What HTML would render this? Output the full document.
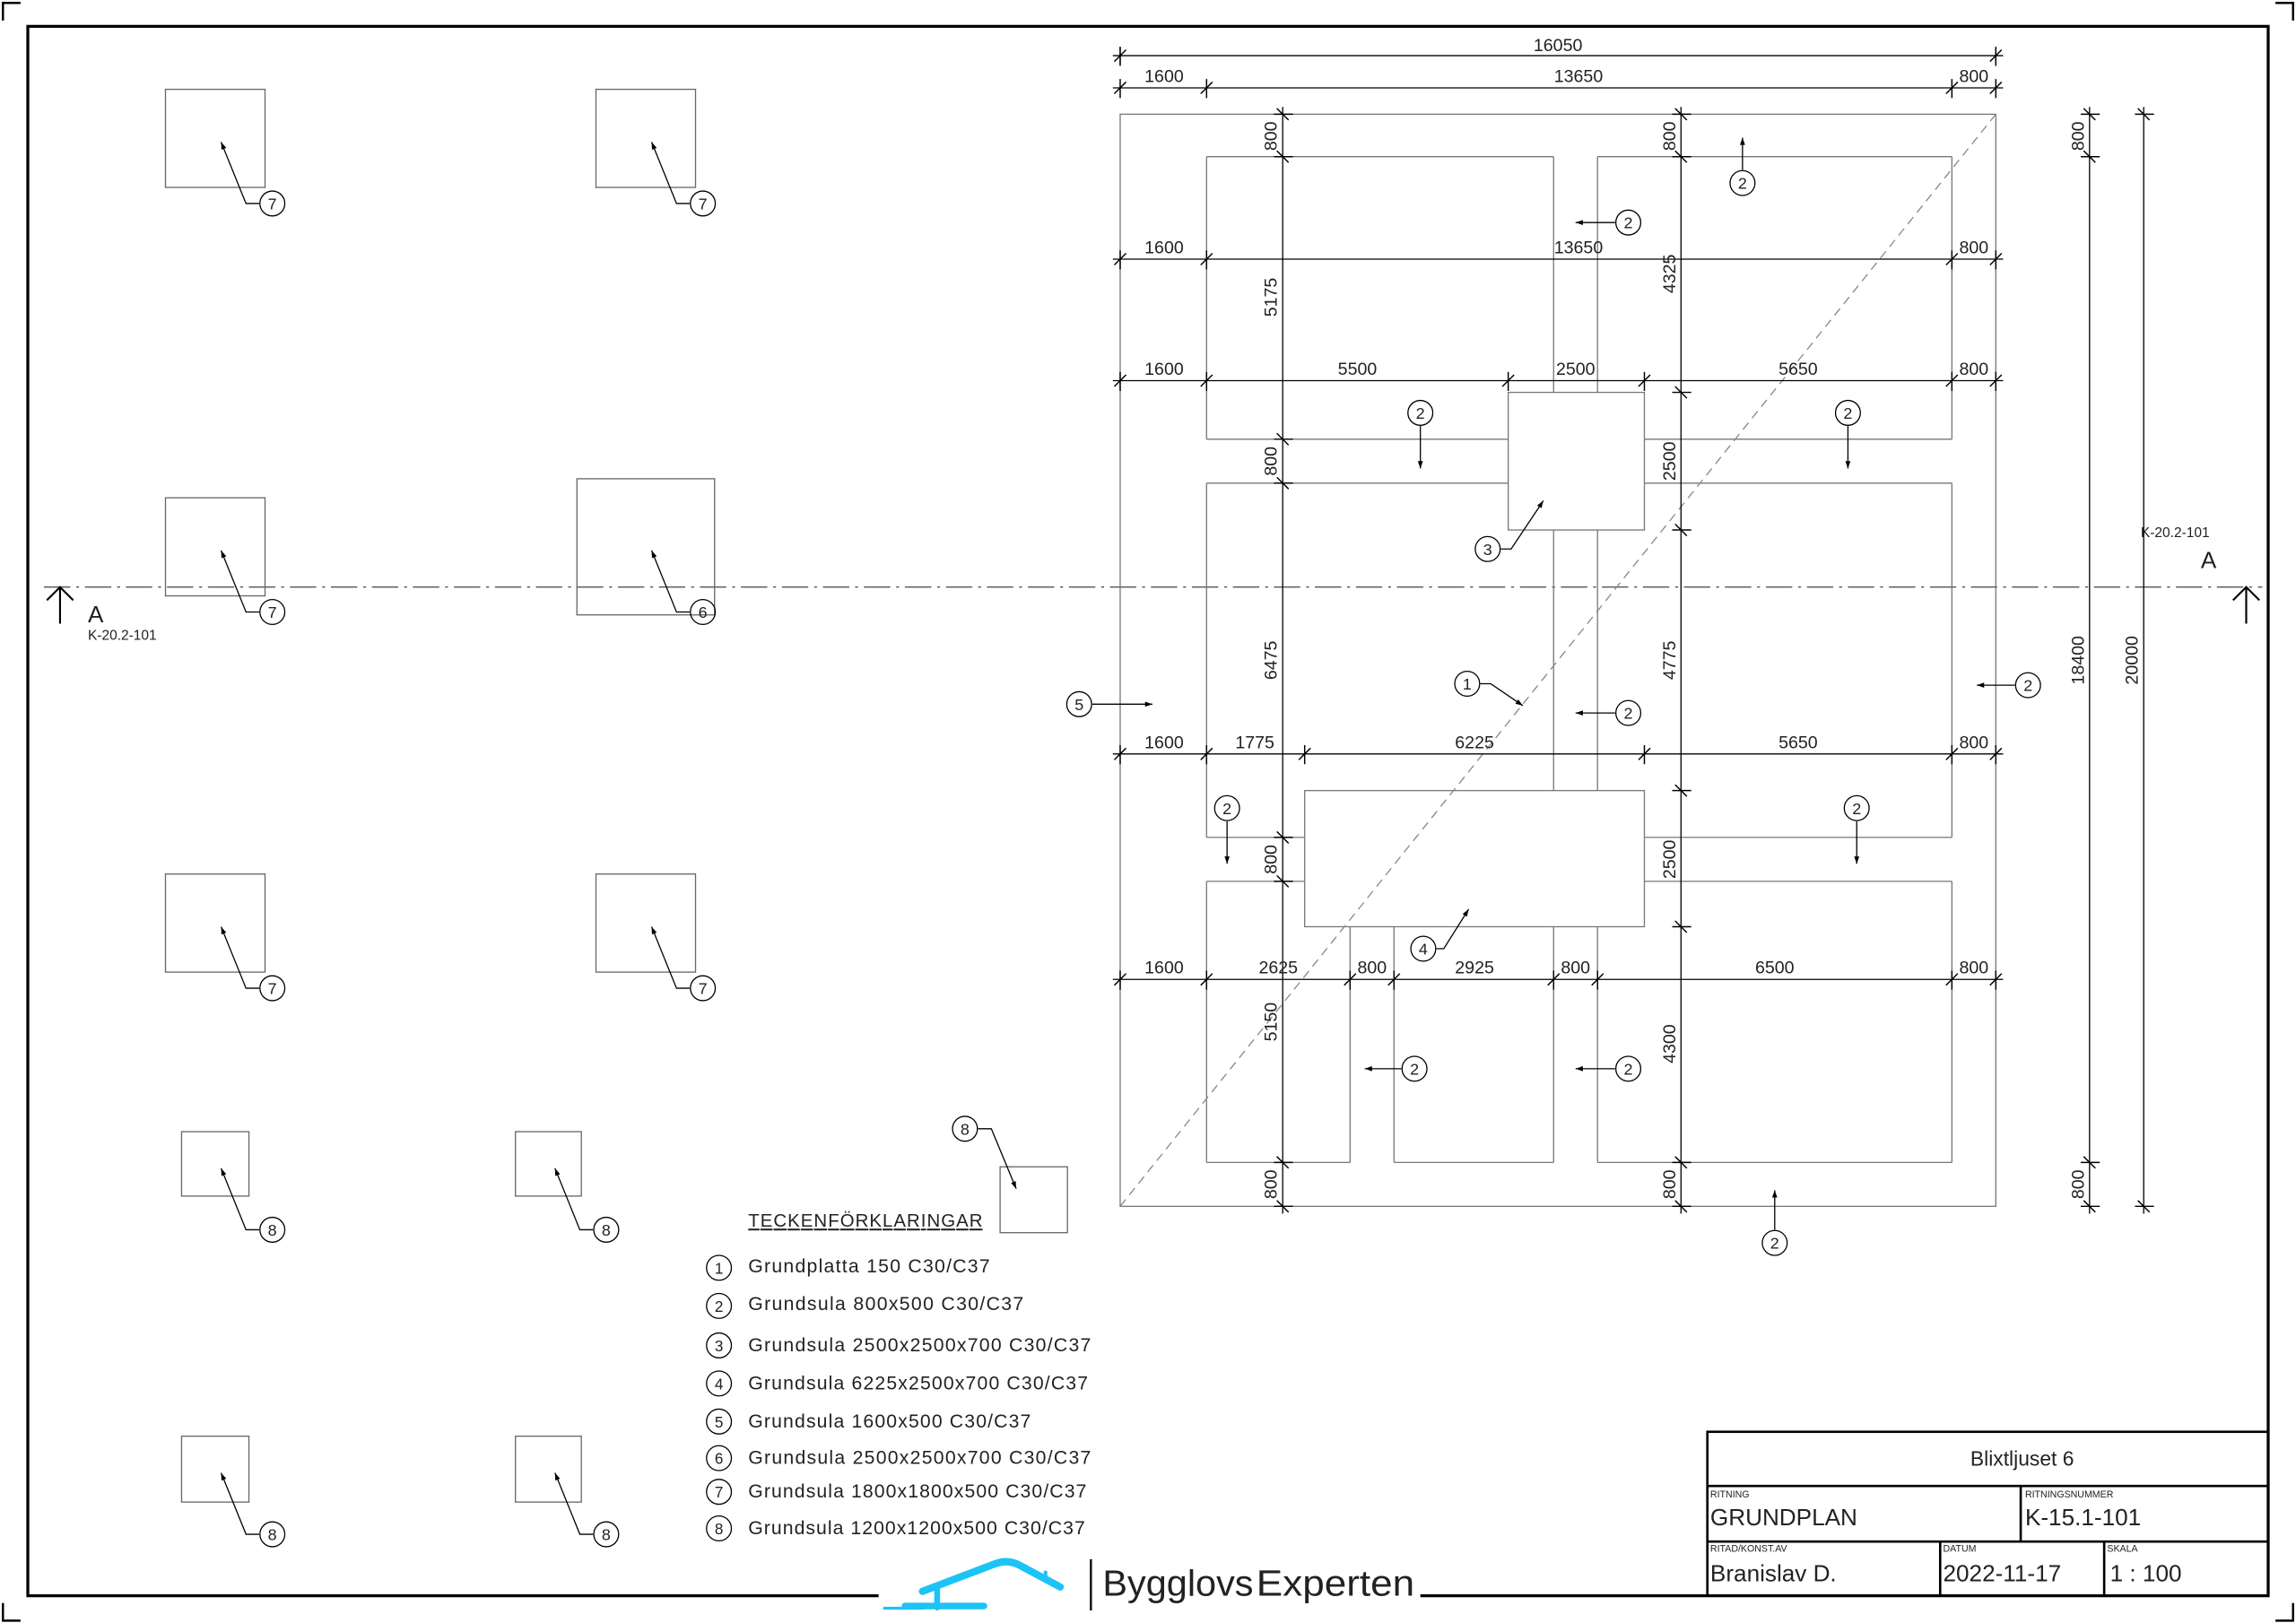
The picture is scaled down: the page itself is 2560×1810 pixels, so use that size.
<!DOCTYPE html>
<html><head><meta charset="utf-8"><style>
html,body{margin:0;padding:0;background:#fff;}
svg{display:block;}
text{font-family:"Liberation Sans",sans-serif;fill:#222;}
</style></head><body>
<svg width="2560" height="1810" viewBox="0 0 1568 1108.6" xmlns="http://www.w3.org/2000/svg">
<defs>
<path id="th" d="M-4,4L4,-4M0,-6V7" stroke="#000" stroke-width="0.9" fill="none"/>
<path id="tv" d="M-4,-4L4,4M-6,0H7" stroke="#000" stroke-width="0.9" fill="none"/>
<marker id="ar" viewBox="0 0 10 10" refX="10" refY="5" markerWidth="10" markerHeight="5" markerUnits="userSpaceOnUse" orient="auto"><path d="M0,1.5L10,5L0,8.5z" fill="#000"/></marker>
</defs>
<rect width="1568" height="1109" fill="#fff"/>
<path d="M2,14V2H14M1554,2H1566V14M2,1095V1107H14M1554,1107H1566V1095" stroke="#000" stroke-width="1.5" fill="none"/>
<path d="M600,1090H19V18H1549V1090H970" stroke="#000" stroke-width="2" fill="none"/>
<g stroke="#000" stroke-width="1.6" fill="none">
<rect x="1166" y="978" width="383" height="112"/>
<path d="M1166,1015H1549M1166,1053H1549M1380,1015V1053M1325,1053V1090M1437,1053V1090"/>
</g>
<g fill="#444">
<text x="1381" y="1001" font-size="14" text-anchor="middle">Blixtljuset 6</text>
<text x="1168" y="1023" font-size="6.5">RITNING</text>
<text x="1168" y="1042" font-size="16">GRUNDPLAN</text>
<text x="1383" y="1023" font-size="6.5">RITNINGSNUMMER</text>
<text x="1383" y="1042" font-size="16">K-15.1-101</text>
<text x="1168" y="1060" font-size="6.5">RITAD/KONST.AV</text>
<text x="1168" y="1080" font-size="16">Branislav D.</text>
<text x="1327" y="1060" font-size="6.5">DATUM</text>
<text x="1327" y="1080" font-size="16">2022-11-17</text>
<text x="1439" y="1060" font-size="6.5">SKALA</text>
<text x="1441" y="1080" font-size="16">1 : 100</text>
</g>
<!-- logo -->
<g stroke="#1cc3f5" stroke-linecap="round" fill="none">
<path d="M630,1087L680,1068Q688,1065 696,1069L724,1084" stroke-width="5"/>
<path d="M640,1086V1098" stroke-width="4"/>
<path d="M618,1097H672" stroke-width="4.5"/>
<path d="M604,1098.5H630" stroke-width="2"/>
<path d="M714,1074V1080" stroke-width="2.5"/>
</g>
<path d="M745,1065V1100" stroke="#111" stroke-width="1.5"/>
<text x="753" y="1090" font-size="25" fill="#111" textLength="103" lengthAdjust="spacingAndGlyphs">Bygglovs</text>
<text x="858" y="1090" font-size="25" fill="#333" textLength="108" lengthAdjust="spacingAndGlyphs">Experten</text>
<!-- legend -->
<text x="511" y="838" font-size="12.5" text-decoration="underline" textLength="160">TECKENFÖRKLARINGAR</text>
<g font-size="13">
<g stroke="#000" stroke-width="0.8" fill="none">
<circle cx="491" cy="866" r="8.5"/><circle cx="491" cy="892" r="8.5"/><circle cx="491" cy="919" r="8.5"/><circle cx="491" cy="945" r="8.5"/>
<circle cx="491" cy="971" r="8.5"/><circle cx="491" cy="996" r="8.5"/><circle cx="491" cy="1019" r="8.5"/><circle cx="491" cy="1044" r="8.5"/>
</g>
<g font-size="10.5" text-anchor="middle">
<text x="491" y="870">1</text><text x="491" y="896">2</text><text x="491" y="923">3</text><text x="491" y="949">4</text>
<text x="491" y="975">5</text><text x="491" y="1000">6</text><text x="491" y="1023">7</text><text x="491" y="1048">8</text>
</g>
<text x="511" y="869" textLength="165">Grundplatta 150 C30/C37</text>
<text x="511" y="895" textLength="188">Grundsula 800x500 C30/C37</text>
<text x="511" y="923" textLength="234">Grundsula 2500x2500x700 C30/C37</text>
<text x="511" y="949" textLength="232">Grundsula 6225x2500x700 C30/C37</text>
<text x="511" y="975" textLength="193">Grundsula 1600x500 C30/C37</text>
<text x="511" y="1000" textLength="234">Grundsula 2500x2500x700 C30/C37</text>
<text x="511" y="1023" textLength="231">Grundsula 1800x1800x500 C30/C37</text>
<text x="511" y="1048" textLength="230">Grundsula 1200x1200x500 C30/C37</text>
</g>
<!-- section line -->
<path d="M30,401H1545" stroke="#555" stroke-width="0.8" stroke-dasharray="18,4,2,4" fill="none"/>
<path d="M41,426V401M32,410L41,401L50,410" stroke="#000" stroke-width="1.3" fill="none"/>
<path d="M1534,426V401M1525,410L1534,401L1543,410" stroke="#000" stroke-width="1.3" fill="none"/>
<text x="60" y="425" font-size="16">A</text>
<text x="60" y="437" font-size="9.5">K-20.2-101</text>
<text x="1462" y="367" font-size="9.5">K-20.2-101</text>
<text x="1503" y="388" font-size="16">A</text>
<!-- left footings -->
<g stroke="#666" stroke-width="0.8" fill="none">
<rect x="113" y="61" width="68" height="67"/><rect x="407" y="61" width="68" height="67"/>
<rect x="113" y="340" width="68" height="67"/><rect x="394" y="327" width="94" height="93"/>
<rect x="113" y="597" width="68" height="67"/><rect x="407" y="597" width="68" height="67"/>
<rect x="124" y="773" width="46" height="44"/><rect x="352" y="773" width="45" height="44"/>
<rect x="124" y="981" width="46" height="45"/><rect x="352" y="981" width="45" height="45"/>
<rect x="683" y="797" width="46" height="45"/>
</g>
<!-- plan -->
<g stroke="#777" stroke-width="0.8" fill="none">
<rect x="765" y="78" width="598" height="746"/>
<path d="M824,107H1061M1091,107H1333M824,300H1333M824,330H1333M824,572H1333M824,602H1333M824,794H922M952,794H1061M1091,794H1333"/>
<path d="M824,107V300M824,330V572M824,602V794M1333,107V300M1333,330V572M1333,602V794M1061,107V794M1091,107V794M922,602V794M952,633V794"/>
</g>
<g stroke="#777" stroke-width="0.8" fill="#fff">
<rect x="1030" y="268" width="93" height="94"/>
<rect x="891" y="540" width="232" height="93"/>
</g>
<path d="M765,824L1363,78" stroke="#888" stroke-width="0.8" stroke-dasharray="6,4" fill="none"/>
<g stroke="#000" stroke-width="0.8" fill="none">
<path d="M760,38H1368M760,60H1368M760,177H1368M760,260H1368M760,515H1368M760,669H1368"/>
<path d="M876,73V829M1148,73V829M1427,73V829M1464,73V829"/>
<path d="M765,32V44M1363,32V44"/>
</g>
<g>
<use href="#th" x="765" y="38"/><use href="#th" x="1363" y="38"/>
<use href="#th" x="765" y="60"/><use href="#th" x="824" y="60"/><use href="#th" x="1333" y="60"/><use href="#th" x="1363" y="60"/>
<use href="#th" x="765" y="177"/><use href="#th" x="824" y="177"/><use href="#th" x="1333" y="177"/><use href="#th" x="1363" y="177"/>
<use href="#th" x="765" y="260"/><use href="#th" x="824" y="260"/><use href="#th" x="1030" y="260"/><use href="#th" x="1123" y="260"/><use href="#th" x="1333" y="260"/><use href="#th" x="1363" y="260"/>
<use href="#th" x="765" y="515"/><use href="#th" x="824" y="515"/><use href="#th" x="891" y="515"/><use href="#th" x="1123" y="515"/><use href="#th" x="1333" y="515"/><use href="#th" x="1363" y="515"/>
<use href="#th" x="765" y="669"/><use href="#th" x="824" y="669"/><use href="#th" x="922" y="669"/><use href="#th" x="952" y="669"/><use href="#th" x="1061" y="669"/><use href="#th" x="1091" y="669"/><use href="#th" x="1333" y="669"/><use href="#th" x="1363" y="669"/>
<use href="#tv" x="876" y="78"/><use href="#tv" x="876" y="107"/><use href="#tv" x="876" y="300"/><use href="#tv" x="876" y="330"/><use href="#tv" x="876" y="572"/><use href="#tv" x="876" y="602"/><use href="#tv" x="876" y="794"/><use href="#tv" x="876" y="824"/>
<use href="#tv" x="1148" y="78"/><use href="#tv" x="1148" y="107"/><use href="#tv" x="1148" y="268"/><use href="#tv" x="1148" y="362"/><use href="#tv" x="1148" y="540"/><use href="#tv" x="1148" y="633"/><use href="#tv" x="1148" y="794"/><use href="#tv" x="1148" y="824"/>
<use href="#tv" x="1427" y="78"/><use href="#tv" x="1427" y="107"/><use href="#tv" x="1427" y="794"/><use href="#tv" x="1427" y="824"/>
<use href="#tv" x="1464" y="78"/><use href="#tv" x="1464" y="824"/>
</g>
<g font-size="12" text-anchor="middle">
<text x="1064" y="35">16050</text>
<text x="795" y="56">1600</text><text x="1078" y="56">13650</text><text x="1348" y="56">800</text>
<text x="795" y="173">1600</text><text x="1078" y="173">13650</text><text x="1348" y="173">800</text>
<text x="795" y="256">1600</text><text x="927" y="256">5500</text><text x="1076" y="256">2500</text><text x="1228" y="256">5650</text><text x="1348" y="256">800</text>
<text x="795" y="511">1600</text><text x="857" y="511">1775</text><text x="1007" y="511">6225</text><text x="1228" y="511">5650</text><text x="1348" y="511">800</text>
<text x="795" y="665">1600</text><text x="873" y="665">2625</text><text x="937" y="665">800</text><text x="1007" y="665">2925</text><text x="1076" y="665">800</text><text x="1212" y="665">6500</text><text x="1348" y="665">800</text>
<g transform="translate(872,0)">
<text transform="translate(0,93) rotate(-90)">800</text><text transform="translate(0,203) rotate(-90)">5175</text><text transform="translate(0,315) rotate(-90)">800</text><text transform="translate(0,451) rotate(-90)">6475</text><text transform="translate(0,587) rotate(-90)">800</text><text transform="translate(0,698) rotate(-90)">5150</text><text transform="translate(0,809) rotate(-90)">800</text>
</g>
<g transform="translate(1144,0)">
<text transform="translate(0,93) rotate(-90)">800</text><text transform="translate(0,187) rotate(-90)">4325</text><text transform="translate(0,315) rotate(-90)">2500</text><text transform="translate(0,451) rotate(-90)">4775</text><text transform="translate(0,587) rotate(-90)">2500</text><text transform="translate(0,713) rotate(-90)">4300</text><text transform="translate(0,809) rotate(-90)">800</text>
</g>
<g transform="translate(1423,0)">
<text transform="translate(0,93) rotate(-90)">800</text><text transform="translate(0,451) rotate(-90)">18400</text><text transform="translate(0,809) rotate(-90)">800</text>
</g>
<text transform="translate(1460,451) rotate(-90)">20000</text>
</g>
<g stroke="#000" stroke-width="0.8" fill="none">
<circle cx="186" cy="139" r="8.5"/><circle cx="480" cy="139" r="8.5"/><circle cx="186" cy="418" r="8.5"/><circle cx="480" cy="418" r="8.5"/>
<circle cx="186" cy="675" r="8.5"/><circle cx="480" cy="675" r="8.5"/>
<circle cx="186" cy="840" r="8.5"/><circle cx="414" cy="840" r="8.5"/><circle cx="186" cy="1048" r="8.5"/><circle cx="414" cy="1048" r="8.5"/>
<circle cx="659" cy="771" r="8.5"/>
<circle cx="1190" cy="125" r="8.5"/><circle cx="1112" cy="152" r="8.5"/><circle cx="970" cy="282" r="8.5"/><circle cx="1262" cy="282" r="8.5"/>
<circle cx="1016" cy="375" r="8.5"/><circle cx="1002" cy="467" r="8.5"/><circle cx="1112" cy="487" r="8.5"/><circle cx="737" cy="481" r="8.5"/>
<circle cx="1385" cy="468" r="8.5"/><circle cx="838" cy="552" r="8.5"/><circle cx="1268" cy="552" r="8.5"/><circle cx="972" cy="648" r="8.5"/>
<circle cx="966" cy="730" r="8.5"/><circle cx="1112" cy="730" r="8.5"/><circle cx="1212" cy="849" r="8.5"/>
</g>
<g stroke="#000" stroke-width="0.8" fill="none" marker-end="url(#ar)">
<path d="M177,139H168L151,97"/><path d="M471,139H462L445,97"/><path d="M177,418H168L151,376"/><path d="M471,418H462L445,376"/>
<path d="M177,675H168L151,633"/><path d="M471,675H462L445,633"/>
<path d="M177,840H168L151,798"/><path d="M405,840H396L379,798"/><path d="M177,1048H168L151,1006"/><path d="M405,1048H396L379,1006"/>
<path d="M668,771H677L694,812"/>
<path d="M1190,116V94"/><path d="M1103,152H1076"/><path d="M970,291V320"/><path d="M1262,291V320"/>
<path d="M1025,375H1032L1054,342"/><path d="M1011,467H1018L1040,482"/><path d="M1103,487H1076"/><path d="M746,481H787"/>
<path d="M1376,468H1350"/><path d="M838,561V590"/><path d="M1268,561V590"/><path d="M981,648H986L1003,621"/>
<path d="M957,730H932"/><path d="M1103,730H1076"/><path d="M1212,840V813"/>
</g>
<g font-size="11" text-anchor="middle">
<text x="186" y="143">7</text><text x="480" y="143">7</text><text x="186" y="422">7</text><text x="480" y="422">6</text>
<text x="186" y="679">7</text><text x="480" y="679">7</text>
<text x="186" y="844">8</text><text x="414" y="844">8</text><text x="186" y="1052">8</text><text x="414" y="1052">8</text>
<text x="659" y="775">8</text>
<text x="1190" y="129">2</text><text x="1112" y="156">2</text><text x="970" y="286">2</text><text x="1262" y="286">2</text>
<text x="1016" y="379">3</text><text x="1002" y="471">1</text><text x="1112" y="491">2</text><text x="737" y="485">5</text>
<text x="1385" y="472">2</text><text x="838" y="556">2</text><text x="1268" y="556">2</text><text x="972" y="652">4</text>
<text x="966" y="734">2</text><text x="1112" y="734">2</text><text x="1212" y="853">2</text>
</g>
</svg>
</body></html>
